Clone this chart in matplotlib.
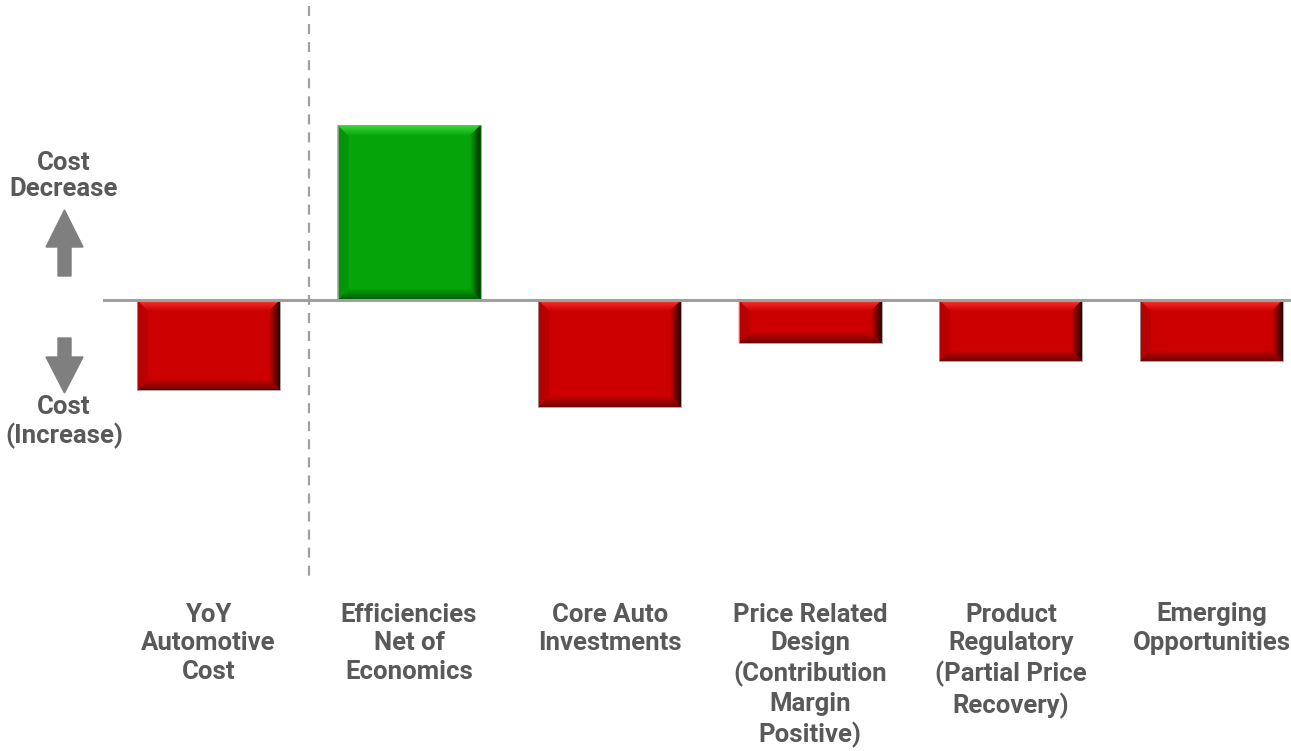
import numpy as np
import matplotlib
matplotlib.use("Agg")
import matplotlib.pyplot as plt
from matplotlib.patches import Polygon
from matplotlib.colors import LinearSegmentedColormap, to_rgb

# ---- data -------------------------------------------------------------
categories = [
    "YoY\nAutomotive\nCost",
    "Efficiencies\nNet of\nEconomics",
    "Core Auto\nInvestments",
    "Price Related\nDesign\n(Contribution\nMargin\nPositive)",
    "Product\nRegulatory\n(Partial Price\nRecovery)",
    "Emerging\nOpportunities",
]
values = [-0.90, 1.75, -1.07, -0.43, -0.61, -0.61]

# ---- styling ----------------------------------------------------------
W, H, DPI = 1291, 751, 100
TEXT = "#595959"
GREY = "#7f7f7f"
LINE = "#a0a0a0"
FONT = ["Roboto", "DejaVu Sans"]
FS = 18.5
plt.rcParams["font.family"] = FONT
plt.rcParams["lines.scale_dashes"] = False

RED = dict(base="#cc0000", light="#ff3a3a", dark="#6e0000", side="#2a0000", left="#b80000")
GREEN = dict(base="#05a50a", light="#3fd63f", dark="#035a05", side="#002a00", left="#049408")

fig = plt.figure(figsize=(W / DPI, H / DPI), dpi=DPI)
fig.patch.set_facecolor("white")

left_px = 103
ax = fig.add_axes([left_px / W, 0, 1 - left_px / W, 1])
step_px, first_px = 200.6, 208.5
ax.set_xlim((left_px - first_px) / step_px, (W - first_px) / step_px)
ax.set_ylim(-(H - 300) / 100, 3.00)
ax.axis("off")

x = np.arange(len(values))
bar_w = 143 / step_px
colors = [GREEN if v > 0 else RED for v in values]
bars = ax.bar(x, values, width=bar_w, color=[c["base"] for c in colors],
              edgecolor="none", zorder=3)

fig.canvas.draw()
inv = ax.transData.inverted()


def px_to_data(dx, dy):
    p0 = inv.transform((0, 0))
    p1 = inv.transform((dx, dy))
    return p1[0] - p0[0], p1[1] - p0[1]


def gradient_poly(ax, verts, c_from, c_to, direction, zorder):
    """Fill a polygon with a linear gradient (direction: 'x' or 'y')."""
    verts = np.asarray(verts)
    x0, x1 = verts[:, 0].min(), verts[:, 0].max()
    y0, y1 = verts[:, 1].min(), verts[:, 1].max()
    cmap = LinearSegmentedColormap.from_list("g", [to_rgb(c_from), to_rgb(c_to)])
    g = np.linspace(0, 1, 64)
    img = g[np.newaxis, :] if direction == "x" else g[:, np.newaxis]
    im = ax.imshow(img, cmap=cmap, extent=(x0, x1, y0, y1), origin="lower",
                   aspect="auto", zorder=zorder, interpolation="bilinear")
    clip = Polygon(verts, closed=True, transform=ax.transData)
    im.set_clip_path(clip)


bx, by = px_to_data(11, 11)
for rect, c in zip(bars, colors):
    x0, y0 = rect.get_x(), rect.get_y()
    x1, y1 = x0 + rect.get_width(), y0 + rect.get_height()
    ylo, yhi = min(y0, y1), max(y0, y1)
    top = [(x0, yhi), (x1, yhi), (x1 - bx, yhi - by), (x0 + bx, yhi - by)]
    bot = [(x0, ylo), (x1, ylo), (x1 - bx, ylo + by), (x0 + bx, ylo + by)]
    rgt = [(x1, yhi), (x1, ylo), (x1 - bx, ylo + by), (x1 - bx, yhi - by)]
    lft = [(x0, yhi), (x0, ylo), (x0 + bx, ylo + by), (x0 + bx, yhi - by)]
    ax.add_patch(Polygon(lft, closed=True, color=c["left"], lw=0, zorder=4))
    gradient_poly(ax, top, c["base"], c["light"], "y", 4)
    gradient_poly(ax, bot, c["dark"], c["base"], "y", 4)
    gradient_poly(ax, rgt, c["base"], c["side"], "x", 5)
    # thin outline
    ax.add_patch(Polygon([(x0, y0), (x1, y0), (x1, y1), (x0, y1)], closed=True,
                         fill=False, ec="#9a9a9a", lw=0.6, zorder=6))

# baseline
ax.axhline(0, color=LINE, lw=2.2, zorder=6)

# separator between the total and its drivers
ax.plot([0.5, 0.5], [2.94, -2.83], color=LINE, lw=1.6, dashes=(7.2, 5.8),
        zorder=2)

# category labels
for xi, lab in zip(x, categories):
    ax.text(xi, -3.025, lab, ha="center", va="top", fontsize=FS,
            fontweight="bold", color=TEXT, linespacing=1.26, clip_on=False)


# ---- side legend: arrows + captions (figure pixel coords) --------------
def fp(px, py):
    return (px / W, 1 - py / H)


fig.text(*fp(64, 176), "Cost\nDecrease", ha="center", va="center",
         fontsize=FS, fontweight="bold", color=TEXT, linespacing=1.15)
fig.text(*fp(64, 422), "Cost\n(Increase)", ha="center", va="center",
         fontsize=FS, fontweight="bold", color=TEXT, linespacing=1.15)

up = [fp(64.5, 210), fp(83, 247), fp(71, 247), fp(71, 276), fp(58, 276),
      fp(58, 247), fp(46, 247)]
down = [fp(64.5, 393), fp(83, 357), fp(71, 357), fp(71, 338), fp(58, 338),
        fp(58, 357), fp(46, 357)]
for verts in (up, down):
    fig.patches.append(Polygon(verts, closed=True, color=GREY,
                               transform=fig.transFigure, figure=fig))

fig.savefig("out.png", dpi=DPI, facecolor="white")
